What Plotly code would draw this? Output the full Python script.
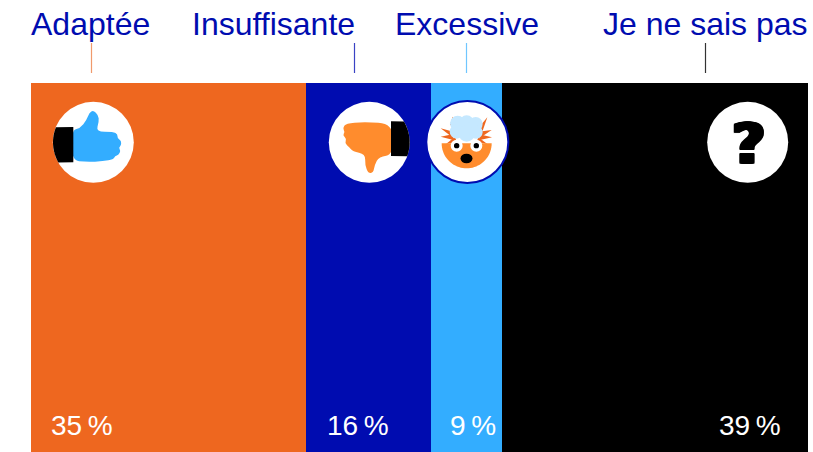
import plotly.graph_objects as go
import math

categories = ["Adaptée", "Insuffisante", "Excessive", "Je ne sais pas"]
values = [35, 16, 9, 39]
value_labels = ["35\u2009%", "16\u2009%", "9\u2009%", "39\u2009%"]
bar_colors = ["#EE671F", "#000CB0", "#33ADFF", "#000000"]
tick_colors = ["#F09A6C", "#3A43C4", "#70C6FF", "#333333"]

W, H = 813, 452
label_x = [29, 190, 393, 601]
tick_x = [91.5, 354.5, 466.5, 705.5]
value_x = [49, 325, 448, 717]
BLUE = "#000CB0"
SKY = "#33ADFF"
ORANGE = "#FF8C2D"


def poly(pts, ox, oy=0, s=3):
    return "M" + " L".join(f"{ox + x / s:.2f},{oy + y / s:.2f}" for x, y in pts) + " Z"


def smooth(pts, ox, oy=0, s=3):
    P = [(ox + x / s, oy + y / s) for x, y in pts]
    n = len(P)
    mids = [((P[i][0] + P[(i + 1) % n][0]) / 2, (P[i][1] + P[(i + 1) % n][1]) / 2) for i in range(n)]
    d = f"M{mids[-1][0]:.2f},{mids[-1][1]:.2f}"
    for i in range(n):
        d += f" Q{P[i][0]:.2f},{P[i][1]:.2f} {mids[i][0]:.2f},{mids[i][1]:.2f}"
    return d + " Z"


def arc_poly(cx, cy, r, a0, a1, n=40):
    return [(cx + r * math.cos(math.radians(a0 + (a1 - a0) * i / n)),
             cy + r * math.sin(math.radians(a0 + (a1 - a0) * i / n))) for i in range(n + 1)]


def pshape(path, color):
    return dict(type="path", path=path, xref="x2", yref="y2", fillcolor=color, line=dict(width=0), layer="above")


def ellipse(cx, cy, rx, ry, color, lw=0, lc=None):
    return dict(type="circle", xref="x2", yref="y2", x0=cx - rx, x1=cx + rx, y0=cy - ry, y1=cy + ry,
                fillcolor=color, line=dict(width=lw, color=lc or color), layer="above")


def circle(cx, cy, r, color, lw=0, lc=None):
    return ellipse(cx, cy, r, r, color, lw, lc)


shapes = []
for x, c in zip(tick_x, tick_colors):
    shapes.append(dict(type="line", xref="x2", yref="y2", x0=x, x1=x, y0=43, y1=73,
                       line=dict(color=c, width=1.2), layer="above"))

# thumb up
shapes.append(circle(93.3, 142.3, 40.5, "white"))
up = [(125, 390), (150, 385), (170, 360), (178, 338), (190, 331), (205, 345), (207, 365), (198, 395), (250, 395),
      (263, 403), (262, 415), (274, 422), (273, 438), (266, 443), (272, 452), (266, 465), (255, 468), (250, 478),
      (220, 484), (170, 486), (125, 482)]
shapes.append(pshape(smooth(up, 30), SKY))
shapes.append(pshape(poly([(130, 381)] + arc_poly(190, 427, 121, 202, 150) + [(130, 487)], 30), "#000000"))

# thumb down
shapes.append(circle(369.3, 142.3, 40.5, "white"))
down = [(1090, 370), (1000, 366), (948, 370), (938, 385), (945, 396), (938, 405), (950, 417), (944, 430), (958, 441),
        (968, 454), (1006, 462), (1005, 495), (1015, 520), (1030, 518), (1034, 495), (1047, 470), (1090, 464)]
shapes.append(pshape(smooth(down, 30), ORANGE))
shapes.append(pshape(poly([(1083, 364)] + arc_poly(1018, 427, 121, -31, 20) + [(1083, 468)], 30), "#000000"))

# startled fox
shapes.append(circle(467.3, 142, 41, "white", 2, BLUE))
FX = 410
spikes = [[(92, 385), (130, 395), (125, 410)], [(92, 410), (130, 402), (130, 420)], [(108, 432), (135, 410), (140, 425)],
          [(128, 350), (140, 378), (120, 375)], [(232, 352), (205, 385), (218, 392)], [(245, 390), (205, 395), (215, 410)],
          [(246, 412), (205, 402), (210, 420)], [(232, 432), (205, 412), (200, 425)]]
for s in spikes:
    shapes.append(pshape(poly(s, FX), "#EE671F"))
shapes.append(pshape(poly(arc_poly(170, 430, 75, 0, 180), FX), ORANGE))
for cx, cy, r in [(143, 370, 23), (170, 368, 22), (197, 372, 21), (140, 395, 21), (170, 400, 25), (198, 396, 20)]:
    shapes.append(circle(FX + cx / 3, cy / 3, r / 3, "#C5E8FF"))
for ex in (140, 199):
    shapes.append(circle(FX + ex / 3, 437 / 3, 6, "white"))
    shapes.append(circle(FX + ex / 3, 437 / 3, 2.7, "black"))
shapes.append(ellipse(466.5, 158.5, 6, 4.8, "black"))

# question mark disc
shapes.append(circle(747.7, 142.3, 40.5, "white"))

annotations = []
for x, t in zip(label_x, categories):
    annotations.append(dict(x=x, y=24, text=t, xref="x2", yref="y2", xanchor="left", yanchor="middle", showarrow=False,
                            font=dict(family="Liberation Sans", size=32, color=BLUE)))
for x, t in zip(value_x, value_labels):
    annotations.append(dict(x=x, y=425, text=t, xref="x2", yref="y2", xanchor="left", yanchor="middle", showarrow=False,
                            font=dict(family="Liberation Sans", size=28, color="white")))
thick = ", ".join(f"{dx}px {dy}px 0 black" for dx in (-2, -1, 0, 1, 2, 3) for dy in (0, 1))
annotations.append(dict(x=747.7, y=142, text="<b>?</b>", xref="x2", yref="y2", xanchor="center", yanchor="middle",
                        showarrow=False, font=dict(family="DejaVu Sans", size=56, color="black", shadow=thick)))

fig = go.Figure()
for c, v, col in zip(categories, values, bar_colors):
    fig.add_trace(go.Bar(y=["s"], x=[v], name=c, orientation="h", marker=dict(color=col, line=dict(width=0)),
                         hoverinfo="name+x"))
fig.update_layout(
    width=W, height=H, barmode="stack", bargap=0, showlegend=False,
    margin=dict(l=0, r=0, t=0, b=0), paper_bgcolor="white", plot_bgcolor="rgba(0,0,0,0)",
    xaxis=dict(domain=[31 / W, 808 / W], range=[0, sum(values)], visible=False, fixedrange=True),
    yaxis=dict(domain=[0, (H - 83) / H], visible=False, fixedrange=True),
    xaxis2=dict(domain=[0, 1], range=[0, W], visible=False, anchor="y2", fixedrange=True),
    yaxis2=dict(domain=[0, 1], range=[H, 0], visible=False, anchor="x2", fixedrange=True),
    shapes=shapes, annotations=annotations,
)
fig.write_html("out.html", config=dict(displayModeBar=False),
               post_script="document.body.style.margin='0';document.documentElement.style.overflow='hidden';")
